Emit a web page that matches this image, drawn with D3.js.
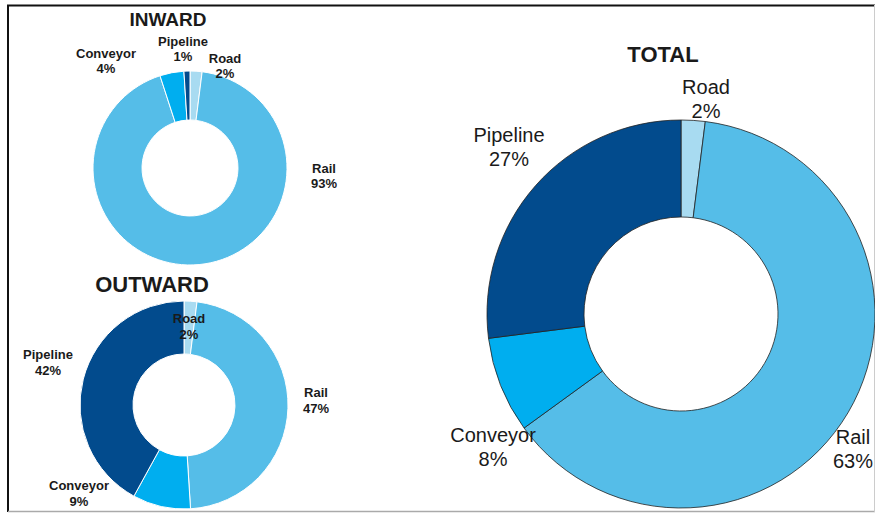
<!DOCTYPE html>
<html>
<head>
<meta charset="utf-8">
<script src="https://cdn.jsdelivr.net/npm/d3@7"></script>
<style>
  body { margin: 0; background: #fff; }
  svg text { font-family: Arial, 'Liberation Sans', sans-serif; fill: #1a1a1a; }
</style>
</head>
<body>
<div id="chart"></div>
<script>
'use strict'
/* Datos */
var modos = ['Road', 'Rail', 'Conveyor', 'Pipeline'];
var inward = [2, 93, 4, 1];
var outward = [2, 47, 9, 42];
var total = [2, 63, 8, 27];
var colores = ['#a8dbf1', '#55bde8', '#00aeef', '#024b8d'];

var w = 875;
var h = 514;

var svg = d3.select('#chart')
            .append('svg')
            .attr('width', w)
            .attr('height', h);

/* Marco */
svg.append('line').attr('x1', 7).attr('x2', 875).attr('y1', 5.5).attr('y2', 5.5)
   .attr('stroke', '#111').attr('stroke-width', 2);
svg.append('line').attr('x1', 8).attr('x2', 8).attr('y1', 5).attr('y2', 512)
   .attr('stroke', '#111').attr('stroke-width', 2);
svg.append('line').attr('x1', 8).attr('x2', 875).attr('y1', 511.5).attr('y2', 511.5)
   .attr('stroke', '#aaa').attr('stroke-width', 1.5);
svg.append('line').attr('x1', 874.5).attr('x2', 874.5).attr('y1', 5).attr('y2', 512)
   .attr('stroke', '#ccc').attr('stroke-width', 1);

/* Dibuja una dona */
function dona(valores, conf){
	var pie = d3.pie().sort(null).value((d)=> d);
	var arc = d3.arc().innerRadius(conf.ri).outerRadius(conf.ro);
	var g = svg.append('g').attr('transform', 'translate(' + conf.cx + ',' + conf.cy + ')');

	g.selectAll('path')
	 .data(pie(valores))
	 .enter()
	 .append('path')
	 .attr('d', arc)
	 .attr('fill', (d, i)=> colores[i])
	 .attr('stroke', conf.borde)
	 .attr('stroke-width', conf.grosor);

	// titulo
	svg.append('text')
	   .attr('x', conf.tx)
	   .attr('y', conf.ty)
	   .attr('text-anchor', 'middle')
	   .style('font-size', conf.tsize + 'px')
	   .style('font-weight', 'bold')
	   .text(conf.titulo);

	// etiquetas
	var et = g.selectAll('text.et')
	          .data(valores)
	          .enter()
	          .append('text')
	          .attr('class', 'et')
	          .attr('text-anchor', 'middle')
	          .attr('transform', (d, i)=> 'translate(' + conf.pos[i][0] + ',' + conf.pos[i][1] + ')')
	          .style('font-size', conf.fsize + 'px')
	          .style('font-weight', conf.peso);
	et.append('tspan').attr('x', 0).attr('y', 0).text((d, i)=> modos[i]);
	et.append('tspan').attr('x', 0).attr('y', conf.lh).text((d)=> d + '%');
}

dona(inward, {
	cx: 190, cy: 168, ri: 48, ro: 97, borde: '#fff', grosor: 1,
	titulo: 'INWARD', tx: 168, ty: 26, tsize: 19,
	fsize: 13, peso: 'bold', lh: 15,
	pos: [[35, -105], [134, 5], [-84, -110], [-7, -122]]
});

dona(outward, {
	cx: 184, cy: 405, ri: 51, ro: 104, borde: '#fff', grosor: 1,
	titulo: 'OUTWARD', tx: 152, ty: 292, tsize: 22,
	fsize: 13, peso: 'bold', lh: 16,
	pos: [[5, -82], [132, -8], [-105, 85], [-136, -46]]
});

dona(total, {
	cx: 681, cy: 314, ri: 97, ro: 194, borde: '#222', grosor: 0.8,
	titulo: 'TOTAL', tx: 663, ty: 62, tsize: 22,
	fsize: 20, peso: 'normal', lh: 24,
	pos: [[25, -220], [172, 130], [-188, 128], [-172, -172]]
});
</script>
</body>
</html>
